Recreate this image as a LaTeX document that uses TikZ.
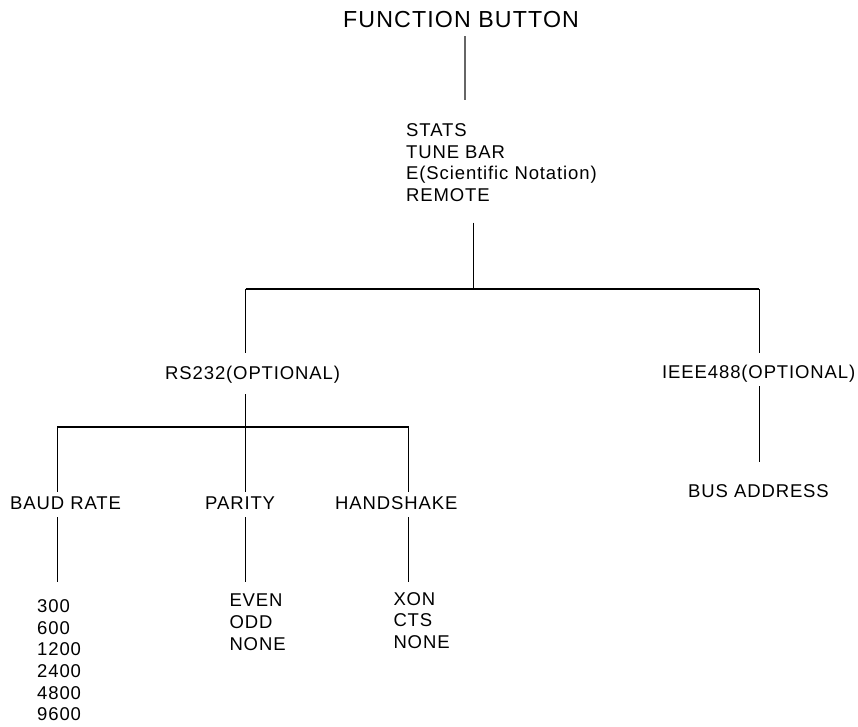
\documentclass[tikz,border=0pt]{standalone}
\usepackage{fontspec}
\setmainfont{Liberation Sans}[LetterSpace=4.8]
\begin{document}
\begin{tikzpicture}[x=1pt,y=-1pt,
  lbl/.style={anchor=base west,inner sep=0pt,font=\fontsize{18.5}{21.7}\selectfont},
  ttl/.style={anchor=base west,inner sep=0pt,font=\fontsize{23.2}{27}\selectfont},
  conn/.style={line width=1pt,black},
  firstconn/.style={line width=1.2pt,black!60},
  busline/.style={line width=2pt,black}]
\useasboundingbox (0,0) rectangle (858,726);
% texts
\node[ttl] (title) at (343,27) {FUNCTION BUTTON};
\node[lbl] (stats) at (406,136) {STATS};
\node[lbl] (tune) at (406,158) {TUNE BAR};
\node[lbl] (sci) at (406,179.7) {E(Scientific Notation)};
\node[lbl] (remote) at (406,201.5) {REMOTE};
\node[lbl] (rs) at (165,379) {RS232(OPTIONAL)};
\node[lbl] (ieee) at (662,378) {IEEE488(OPTIONAL)};
\node[lbl] (bus) at (688,497) {BUS ADDRESS};
\node[lbl] (baud) at (10,509.3) {BAUD RATE};
\node[lbl] (parity) at (205,509.3) {PARITY};
\node[lbl] (hand) at (335,509.3) {HANDSHAKE};
\node[lbl] (b1) at (37,612.3) {300};
\node[lbl] (b2) at (37,634) {600};
\node[lbl] (b3) at (37,655.7) {1200};
\node[lbl] (b4) at (37,677.4) {2400};
\node[lbl] (b5) at (37,699) {4800};
\node[lbl] (b6) at (37,720.7) {9600};
\node[lbl] (p1) at (229.3,606.7) {EVEN};
\node[lbl] (p2) at (229.3,628.3) {ODD};
\node[lbl] (p3) at (229.3,650) {NONE};
\node[lbl] (h1) at (393.3,605) {XON};
\node[lbl] (h2) at (393.3,626.7) {CTS};
\node[lbl] (h3) at (393.3,648.3) {NONE};
% junction coordinates
\coordinate (tA) at (465,36);
\coordinate (tB) at (465,100);
\coordinate (sA) at (473.3,222.7);
\coordinate (sB) at (473.3,289);
\coordinate (busL) at (245.7,289);
\coordinate (busR) at (759,289);
\coordinate (rsTop) at (245.7,352.7);
\coordinate (ieTop) at (759,352.7);
\coordinate (ieBot) at (759,386);
\coordinate (baTop) at (759,461.7);
\coordinate (rsBot) at (245.7,394.3);
\coordinate (bus2L) at (57.3,427);
\coordinate (bus2R) at (408.7,427);
\coordinate (paTop) at (245.7,491.5);
\coordinate (bdTop) at (57.3,491.5);
\coordinate (hsTop) at (408.7,491.5);
\coordinate (bdA) at (57.3,517.3);
\coordinate (bdB) at (57.3,581.7);
\coordinate (paA) at (245.7,517.3);
\coordinate (paB) at (245.7,581.7);
\coordinate (hsA) at (408.7,517.3);
\coordinate (hsB) at (408.7,581.7);
% connectors
\draw[firstconn] (tA) -- (tB);
\draw[conn] (sA) -- (sB);
\draw[busline] (busL) -- (busR);
\draw[conn] (busL) -- (rsTop);
\draw[conn] (busR) -- (ieTop);
\draw[conn] (ieBot) -- (baTop);
\draw[conn] (rsBot) -- (paTop);
\draw[busline] (bus2L) -- (bus2R);
\draw[conn] (bus2L) -- (bdTop);
\draw[conn] (bus2R) -- (hsTop);
\draw[conn] (bdA) -- (bdB);
\draw[conn] (paA) -- (paB);
\draw[conn] (hsA) -- (hsB);
\end{tikzpicture}
\end{document}
